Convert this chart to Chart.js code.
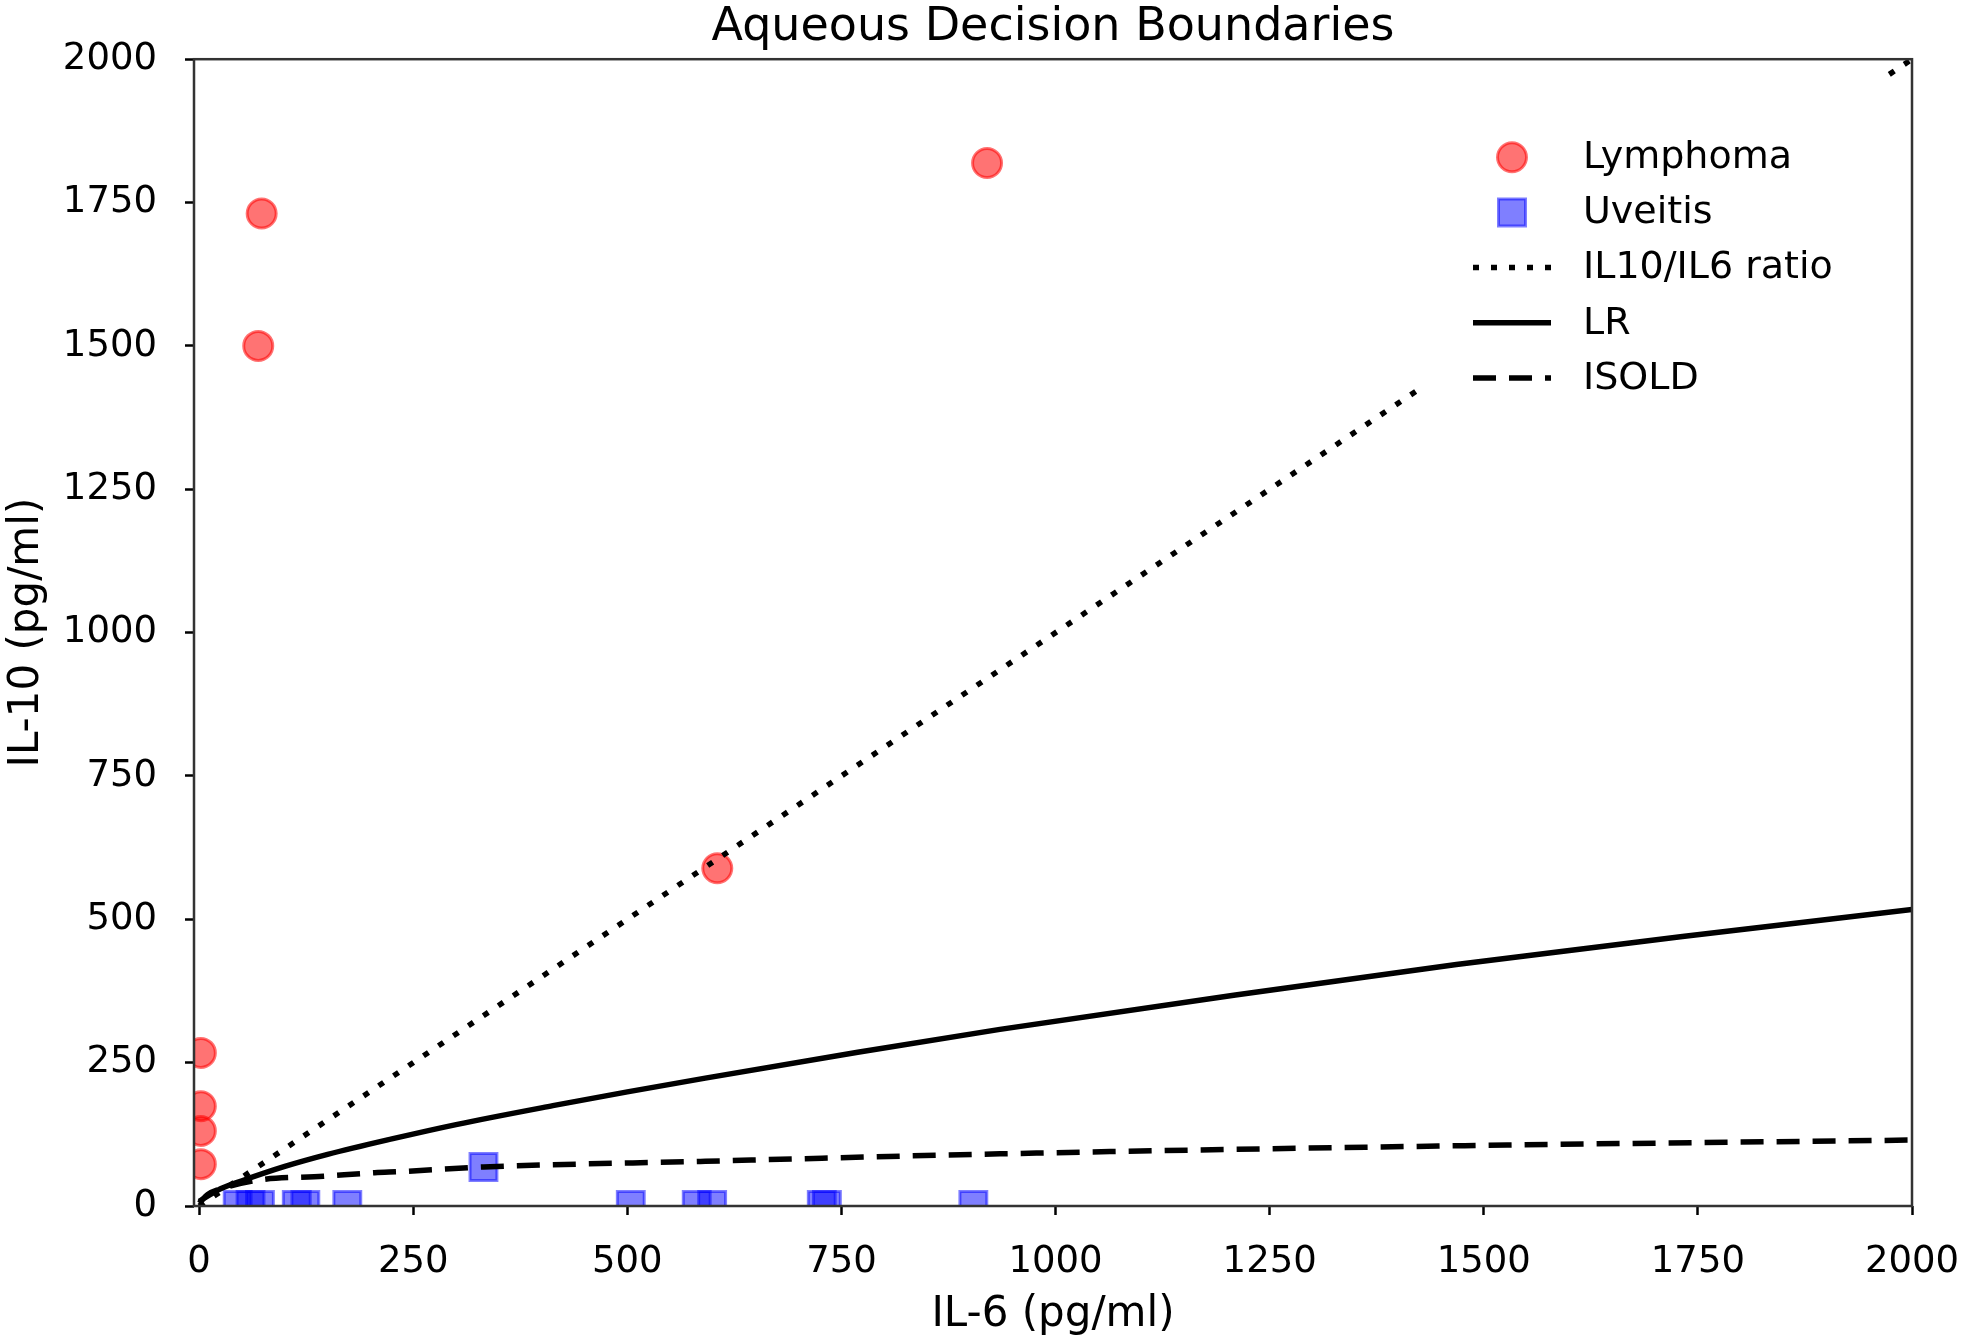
<!DOCTYPE html>
<html>
<head>
<meta charset="utf-8">
<script src="https://cdn.jsdelivr.net/npm/chart.js@4"></script>
<style>
  html, body { margin: 0; padding: 0; background: #fff; }
</style>
</head>
<body>
<canvas id="myChart" width="1964" height="1340"></canvas>
<script>
// values
const lymphomaX = [73, 69, 920, 605, 2, 2, 2, 2];
const lymphomaY = [1731, 1500, 1819, 589, 267, 174, 131, 73];

const uveitisX = [45, 60, 71, 114, 124, 173, 332, 504, 581, 599, 727, 733, 904];
const uveitisY = [2, 2, 2, 2, 2, 2, 68, 2, 2, 2, 2, 2, 2];

const ratioX = [0, 2000];
const ratioY = [0, 2000];

const lrX = [0, 25, 50, 100, 150, 225, 300, 413, 500, 591, 769, 935, 1210, 1468, 1732, 2000];
const lrY = [8, 30, 44, 69, 90, 117, 142, 175, 199, 223, 268, 308, 368, 421, 470, 517];

const isoldX = [0, 10, 30, 68, 145, 205, 235, 332, 591, 935, 1468, 2000];
const isoldY = [5, 20, 32, 45, 52, 58, 60, 68, 78, 91, 105, 115];

const xTicks = [0, 250, 500, 750, 1000, 1250, 1500, 1750, 2000];
const yTicks = [0, 250, 500, 750, 1000, 1250, 1500, 1750, 2000];

const toPoints = (xs, ys) => xs.map((x, i) => ({ x: x, y: ys[i] }));

const FONT = 'DejaVu Sans';
const redFill = 'rgba(255,0,0,0.55)';
const blueFill = 'rgba(0,0,255,0.5)';
const LW = 5.5;
const DOTS = [6, 12];
const DASHES = [23, 13];

// legend box drawn inside the axes, over the lines (like the matplotlib frame)
const legendBox = {
    id: 'legendBox',
    afterDatasetsDraw(chart) {
        const ctx = chart.ctx;
        const a = chart.chartArea;
        ctx.save();

        // white frame
        const bx = a.right - 492, by = a.top + 17, bw = 468, bh = 320;
        ctx.fillStyle = '#fff';
        ctx.beginPath();
        ctx.roundRect(bx, by, bw, bh, 14);
        ctx.fill();

        const entries = [
            { label: 'Lymphoma', kind: 'circle' },
            { label: 'Uveitis', kind: 'rect' },
            { label: 'IL10/IL6 ratio', kind: 'line', dash: DOTS },
            { label: 'LR', kind: 'line', dash: [] },
            { label: 'ISOLD', kind: 'line', dash: DASHES }
        ];
        const x0 = a.right - 439, x1 = a.right - 361, xm = a.right - 400;
        entries.forEach((e, i) => {
            const y = a.top + 98 + i * 55.2;
            if (e.kind === 'circle') {
                ctx.beginPath();
                ctx.arc(xm, y, 14.5, 0, Math.PI * 2);
                ctx.fillStyle = redFill;
                ctx.fill();
                ctx.lineWidth = 3;
                ctx.strokeStyle = redFill;
                ctx.stroke();
            } else if (e.kind === 'rect') {
                ctx.beginPath();
                ctx.rect(xm - 13.5, y - 13.5, 27, 27);
                ctx.fillStyle = blueFill;
                ctx.fill();
                ctx.lineWidth = 3;
                ctx.strokeStyle = blueFill;
                ctx.stroke();
            } else {
                ctx.beginPath();
                ctx.setLineDash(e.dash);
                ctx.lineCap = 'butt';
                ctx.lineWidth = LW;
                ctx.strokeStyle = '#000';
                ctx.moveTo(x0, y);
                ctx.lineTo(x1, y);
                ctx.stroke();
                ctx.setLineDash([]);
            }
            ctx.fillStyle = '#000';
            ctx.font = '38px "' + FONT + '"';
            ctx.textAlign = 'left';
            ctx.textBaseline = 'middle';
            ctx.fillText(e.label, a.right - 329, y + 1);
        });

        // axes frame
        ctx.lineWidth = 2.5;
        ctx.strokeStyle = '#333';
        ctx.strokeRect(a.left, a.top, a.right - a.left, a.bottom - a.top);
        ctx.restore();
    }
};

const ctx = document.getElementById('myChart');

new Chart(ctx, {
    type: 'scatter',
    data: {
        datasets: [
            {
                label: 'Lymphoma',
                data: toPoints(lymphomaX, lymphomaY),
                pointStyle: 'circle',
                pointRadius: 14.5,
                pointBorderWidth: 3,
                backgroundColor: redFill,
                borderColor: redFill,
                order: 3
            },
            {
                label: 'Uveitis',
                data: toPoints(uveitisX, uveitisY),
                pointStyle: 'rect',
                pointRadius: 19,
                pointBorderWidth: 3,
                backgroundColor: blueFill,
                borderColor: blueFill,
                order: 2
            },
            {
                label: 'IL10/IL6 ratio',
                data: toPoints(ratioX, ratioY),
                showLine: true,
                pointRadius: 0,
                borderColor: '#000',
                borderWidth: LW,
                borderDash: DOTS,
                order: 1
            },
            {
                label: 'LR',
                data: toPoints(lrX, lrY),
                showLine: true,
                pointRadius: 0,
                borderColor: '#000',
                borderWidth: LW,
                cubicInterpolationMode: 'monotone',
                order: 1
            },
            {
                label: 'ISOLD',
                data: toPoints(isoldX, isoldY),
                showLine: true,
                pointRadius: 0,
                borderColor: '#000',
                borderWidth: LW,
                borderDash: DASHES,
                cubicInterpolationMode: 'monotone',
                order: 1
            }
        ]
    },
    options: {
        responsive: false,
        animation: false,
        events: [],
        layout: { padding: { left: 0, right: 52, top: 0, bottom: 0 } },
        plugins: {
            legend: { display: false },
            tooltip: { enabled: false },
            title: {
                display: true,
                text: 'Aqueous Decision Boundaries',
                fullSize: false,
                color: '#000',
                font: { family: FONT, size: 46, weight: 'normal' },
                padding: { top: 0, bottom: 4 }
            }
        },
        scales: {
            x: {
                type: 'linear',
                min: -6,
                max: 2000,
                afterBuildTicks: axis => { axis.ticks = xTicks.map(v => ({ value: v })); },
                afterFit: axis => {
                    axis.height = 134;
                    axis.paddingRight = 30;
                    axis.paddingLeft = 0;
                },
                grid: { drawOnChartArea: false, drawTicks: true, tickLength: 9, tickWidth: 2.5, tickColor: '#000' },
                border: { display: false },
                ticks: {
                    color: '#000',
                    padding: 25,
                    maxRotation: 0,
                    font: { family: FONT, size: 37 },
                    callback: v => String(v)
                },
                title: {
                    display: true,
                    text: 'IL-6 (pg/ml)',
                    color: '#000',
                    font: { family: FONT, size: 42 },
                    padding: { top: 0, bottom: 0 }
                }
            },
            y: {
                type: 'linear',
                min: 0,
                max: 2000,
                afterBuildTicks: axis => { axis.ticks = yTicks.map(v => ({ value: v })); },
                afterFit: axis => { axis.width = 194; },
                grid: { drawOnChartArea: false, drawTicks: true, tickLength: 9, tickWidth: 2.5, tickColor: '#000' },
                border: { display: false },
                ticks: {
                    color: '#000',
                    padding: 28,
                    font: { family: FONT, size: 37 },
                    callback: v => String(v)
                },
                title: {
                    display: true,
                    text: 'IL-10 (pg/ml)',
                    color: '#000',
                    font: { family: FONT, size: 42 },
                    padding: { top: 2, bottom: 0 }
                }
            }
        }
    },
    plugins: [legendBox]
});
</script>
</body>
</html>
